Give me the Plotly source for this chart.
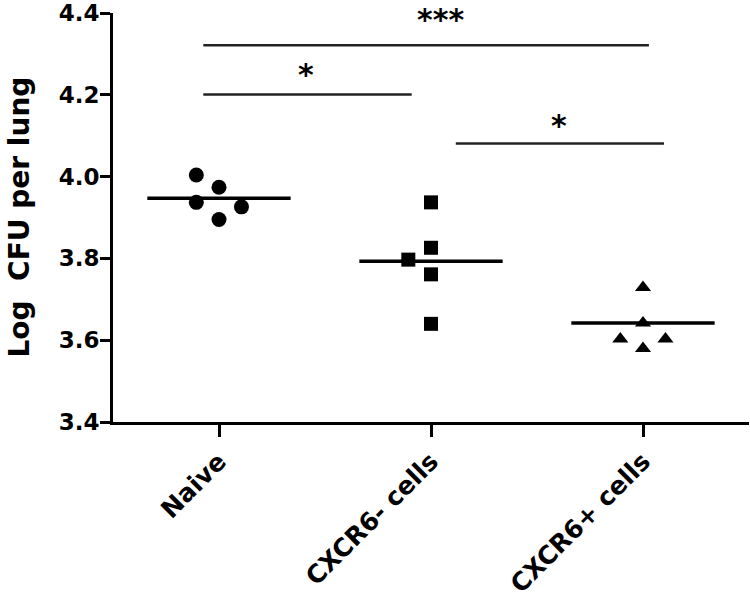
import plotly.graph_objects as go

# ---- data ----
groups = ["Naive", "CXCR6- cells", "CXCR6+ cells"]
naive_vals = [4.004, 3.974, 3.937, 3.926, 3.895]
naive_offsets = [-0.107, 0.0, -0.107, 0.106, 0.0]
neg_vals = [3.937, 3.826, 3.797, 3.761, 3.640]
neg_offsets = [0.0, 0.0, -0.107, 0.0, 0.0]
pos_vals = [3.729, 3.642, 3.603, 3.603, 3.580]
pos_offsets = [0.0, 0.0, -0.107, 0.106, 0.0]
group_means = [3.947, 3.793, 3.642]
y_ticks = [3.4, 3.6, 3.8, 4.0, 4.2, 4.4]
y_title = "Log\u00a0 CFU per lung"

# significance brackets
bracket_x0 = [-0.074, -0.074, 1.117]
bracket_x1 = [2.028, 0.909, 2.099]
bracket_y = [4.321, 4.201, 4.081]
bracket_labels = ["***", "*", "*"]
label_x = [1.046, 0.409, 1.602]
label_y = [4.413, 4.254, 4.131]

# ---- styles ----
FONT = "DejaVu Sans"
MEAN_HALF = 0.338
Y_RANGE = [3.4, 4.4]
MARGIN = dict(l=113, r=1, t=13, b=177)
HEIGHT = 599
symbols = ["circle", "square", "triangle-up"]
sizes = [15, 14, 14]

fig = go.Figure()

all_vals = [naive_vals, neg_vals, pos_vals]
all_offs = [naive_offsets, neg_offsets, pos_offsets]
for gi, (vals, offs) in enumerate(zip(all_vals, all_offs)):
    fig.add_trace(go.Scatter(
        x=[gi + o for o in offs], y=vals, mode="markers",
        marker=dict(symbol=symbols[gi], size=sizes[gi], color="black",
                    line=dict(width=0)),
        showlegend=False, cliponaxis=False, hoverinfo="skip"))
    fig.add_trace(go.Scatter(
        x=[gi - MEAN_HALF, gi + MEAN_HALF], y=[group_means[gi]] * 2,
        mode="lines", line=dict(color="black", width=3.5),
        showlegend=False, cliponaxis=False, hoverinfo="skip"))

for x0, x1, yb in zip(bracket_x0, bracket_x1, bracket_y):
    fig.add_trace(go.Scatter(
        x=[x0, x1], y=[yb, yb], mode="lines",
        line=dict(color="#222222", width=2.5),
        showlegend=False, cliponaxis=False, hoverinfo="skip"))

plot_h = HEIGHT - MARGIN["t"] - MARGIN["b"]
for lx, ly, lab in zip(label_x, label_y, bracket_labels):
    py = (ly - Y_RANGE[0]) / (Y_RANGE[1] - Y_RANGE[0])
    if py > 1:
        # label above the plot area: pin its box to the top of the figure
        fig.add_annotation(x=lx, y=1 + MARGIN["t"] / plot_h, xref="x",
                           yref="paper", text=lab, showarrow=False,
                           xanchor="center", yanchor="top",
                           font=dict(family=FONT, size=30, weight="bold",
                                     color="black"))
    else:
        fig.add_annotation(x=lx, y=py, xref="x", yref="paper", text=lab,
                           showarrow=False, xanchor="center",
                           yanchor="middle", yshift=-2,
                           font=dict(family=FONT, size=30, weight="bold",
                                     color="black"))

fig.add_annotation(x=0, y=0.5, xref="paper", yref="paper", text=y_title,
                   textangle=-90, showarrow=False, xanchor="center",
                   yanchor="middle", xshift=-94,
                   font=dict(family=FONT, size=28, weight="bold", color="black"))

fig.update_xaxes(range=[-0.5, 2.5], tickvals=[0, 1, 2], ticktext=groups,
                 tickangle=-45, ticks="outside", ticklen=12, tickwidth=3,
                 tickcolor="black", showline=True, linewidth=3, linecolor="black",
                 showgrid=False, zeroline=False, automargin=False,
                 ticklabeloverflow="allow",
                 tickfont=dict(family=FONT, size=25, weight="bold", color="black"))
fig.update_yaxes(range=Y_RANGE, tickvals=y_ticks,
                 ticktext=[f"{v:.1f}" for v in y_ticks],
                 ticks="outside", ticklen=10, tickwidth=3, tickcolor="black",
                 ticklabelstandoff=-4, ticklabeloverflow="allow",
                 showline=True, linewidth=3, linecolor="black",
                 showgrid=False, zeroline=False, automargin=False,
                 tickfont=dict(family=FONT, size=23, weight="bold", color="black"))

fig.update_layout(width=750, height=HEIGHT, margin=MARGIN,
                  plot_bgcolor="white", paper_bgcolor="white",
                  showlegend=False, hovermode=False)

# remove the default 8 px page margin so the 750x599 figure fills the window
fig.write_html("out.html", config={"displayModeBar": False},
               post_script="document.body.style.margin='0';")
